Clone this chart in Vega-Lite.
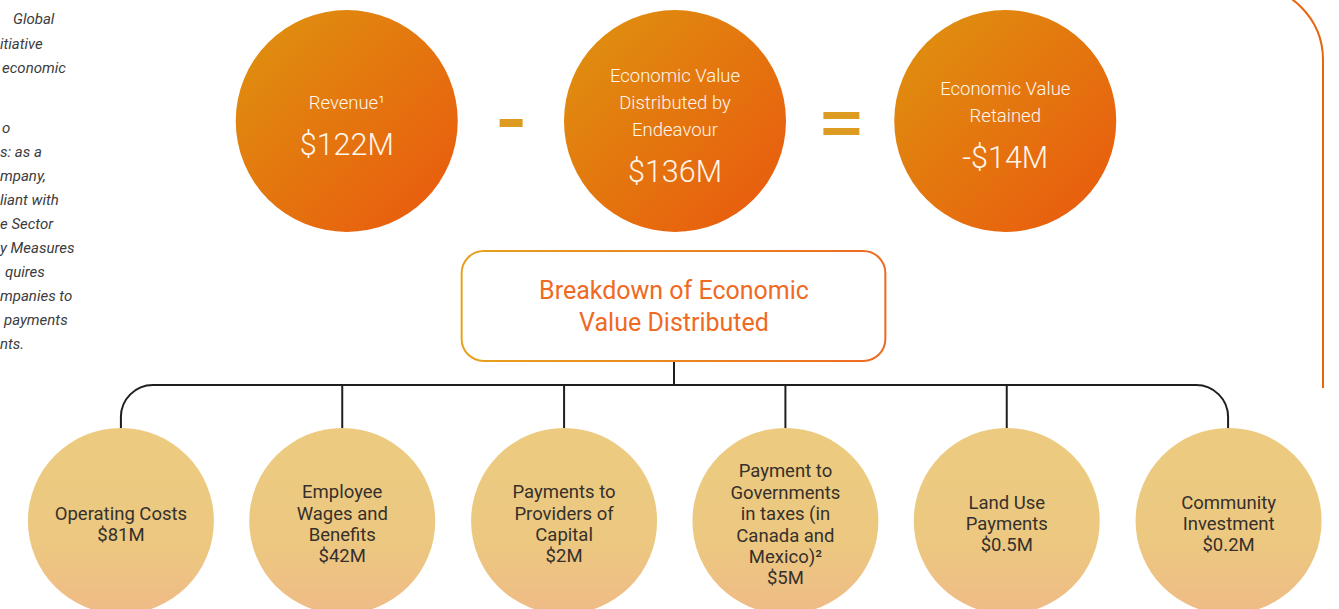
{
  "$schema": "https://vega.github.io/schema/vega-lite/v6.json",
  "width": 1339,
  "height": 609,
  "autosize": {"type": "fit", "contains": "padding"},
  "padding": 0,
  "background": "white",
  "config": {"view": {"stroke": null}, "text": {"font": "Roboto"}},
  "datasets": {
    "frame": [{"x": -100, "x2": 1323, "y": -15, "y2": 720}],
    "frameCut": [{"x": 1317, "x2": 1330, "y": 388, "y2": 720}],
    "tree": [{"x": 120, "x2": 1228, "y": 385, "y2": 720}],
    "stubs": [
      {"x": 341.5, "y": 385, "y2": 428},
      {"x": 563.5, "y": 385, "y2": 428},
      {"x": 785, "y": 385, "y2": 428},
      {"x": 1006.5, "y": 385, "y2": 428},
      {"x": 673.5, "y": 361, "y2": 385}
    ],
    "topCircles": [
      {"item": "Revenue", "x": 346, "y": 121},
      {"item": "Economic Value Distributed", "x": 674.5, "y": 121},
      {"item": "Economic Value Retained", "x": 1005, "y": 121}
    ],
    "bottomCircles": [
      {"item": "Operating Costs", "x": 120, "y": 521},
      {"item": "Employee Wages and Benefits", "x": 341.5, "y": 521},
      {"item": "Payments to Providers of Capital", "x": 563.5, "y": 521},
      {"item": "Payment to Governments", "x": 785, "y": 521},
      {"item": "Land Use Payments", "x": 1006.5, "y": 521},
      {"item": "Community Investment", "x": 1228.5, "y": 521}
    ],
    "box": [{"x": 461, "x2": 885, "y": 251, "y2": 361}],
    "boxText": [
      {"x": 673.5, "y": 291, "t": "Breakdown of Economic"},
      {"x": 673.5, "y": 323, "t": "Value Distributed"}
    ],
    "operators": [
      {"op": "minus", "x": 499, "x2": 522, "y": 119, "y2": 127},
      {"op": "equals top", "x": 823, "x2": 859, "y": 112, "y2": 119},
      {"op": "equals bottom", "x": 823, "x2": 859, "y": 128, "y2": 135}
    ],
    "topLabels": [
      {"x": 346, "y": 103, "t": "Revenue¹"},
      {"x": 674.5, "y": 76, "t": "Economic Value"},
      {"x": 674.5, "y": 103, "t": "Distributed by"},
      {"x": 674.5, "y": 130, "t": "Endeavour"},
      {"x": 1005, "y": 89, "t": "Economic Value"},
      {"x": 1005, "y": 116, "t": "Retained"}
    ],
    "topValues": [
      {"x": 346, "y": 146, "t": "$122M"},
      {"x": 674.5, "y": 173, "t": "$136M"},
      {"x": 1005, "y": 159, "t": "-$14M"}
    ],
    "bottomText": [
      {"x": 120, "y": 514, "t": "Operating Costs"},
      {"x": 120, "y": 535, "t": "$81M"},
      {"x": 341.5, "y": 492, "t": "Employee"},
      {"x": 341.5, "y": 514, "t": "Wages and"},
      {"x": 341.5, "y": 535, "t": "Benefits"},
      {"x": 341.5, "y": 556, "t": "$42M"},
      {"x": 563.5, "y": 492, "t": "Payments to"},
      {"x": 563.5, "y": 514, "t": "Providers of"},
      {"x": 563.5, "y": 535, "t": "Capital"},
      {"x": 563.5, "y": 556, "t": "$2M"},
      {"x": 785, "y": 471, "t": "Payment to"},
      {"x": 785, "y": 493, "t": "Governments"},
      {"x": 785, "y": 514, "t": "in taxes (in"},
      {"x": 785, "y": 536, "t": "Canada and"},
      {"x": 785, "y": 557, "t": "Mexico)²"},
      {"x": 785, "y": 578, "t": "$5M"},
      {"x": 1006.5, "y": 503, "t": "Land Use"},
      {"x": 1006.5, "y": 524, "t": "Payments"},
      {"x": 1006.5, "y": 545, "t": "$0.5M"},
      {"x": 1228.5, "y": 503, "t": "Community"},
      {"x": 1228.5, "y": 524, "t": "Investment"},
      {"x": 1228.5, "y": 545, "t": "$0.2M"}
    ],
    "leftText": [
      {"x": 12, "y": 19, "t": "Global"},
      {"x": -1, "y": 44, "t": "itiative"},
      {"x": 1, "y": 68, "t": "economic"},
      {"x": 1, "y": 128, "t": "o"},
      {"x": -1, "y": 152, "t": "s: as a"},
      {"x": -1, "y": 176, "t": "mpany,"},
      {"x": -1, "y": 200, "t": "liant with"},
      {"x": -1, "y": 224, "t": "e Sector"},
      {"x": -1, "y": 248, "t": "y Measures"},
      {"x": 4, "y": 272, "t": "quires"},
      {"x": -1, "y": 296, "t": "mpanies to"},
      {"x": 3, "y": 320, "t": "payments"},
      {"x": -1, "y": 344, "t": "nts."}
    ]
  },
  "layer": [
    {
      "data": {"name": "frame"},
      "mark": {"type": "rect", "fill": null, "stroke": "#e8650f", "strokeWidth": 2, "cornerRadius": 75, "clip": true},
      "encoding": {
        "x": {"field": "x", "type": "quantitative", "scale": {"domain": [0, 1339], "nice": false, "zero": false}, "axis": null},
        "x2": {"field": "x2"},
        "y": {"field": "y", "type": "quantitative", "scale": {"domain": [0, 609], "nice": false, "zero": false, "reverse": true}, "axis": null},
        "y2": {"field": "y2"}
      }
    },
    {
      "data": {"name": "frameCut"},
      "mark": {"type": "rect", "fill": "white", "clip": true},
      "encoding": {
        "x": {"field": "x", "type": "quantitative", "scale": {"domain": [0, 1339], "nice": false, "zero": false}, "axis": null},
        "x2": {"field": "x2"},
        "y": {"field": "y", "type": "quantitative", "scale": {"domain": [0, 609], "nice": false, "zero": false, "reverse": true}, "axis": null},
        "y2": {"field": "y2"}
      }
    },
    {
      "data": {"name": "tree"},
      "mark": {"type": "rect", "fill": null, "stroke": "#1e1e1e", "strokeWidth": 2, "cornerRadius": 32, "clip": true},
      "encoding": {
        "x": {"field": "x", "type": "quantitative", "scale": {"domain": [0, 1339], "nice": false, "zero": false}, "axis": null},
        "x2": {"field": "x2"},
        "y": {"field": "y", "type": "quantitative", "scale": {"domain": [0, 609], "nice": false, "zero": false, "reverse": true}, "axis": null},
        "y2": {"field": "y2"}
      }
    },
    {
      "data": {"name": "stubs"},
      "mark": {"type": "rule", "color": "#1e1e1e", "strokeWidth": 2},
      "encoding": {
        "x": {"field": "x", "type": "quantitative", "scale": {"domain": [0, 1339], "nice": false, "zero": false}, "axis": null},
        "y": {"field": "y", "type": "quantitative", "scale": {"domain": [0, 609], "nice": false, "zero": false, "reverse": true}, "axis": null},
        "y2": {"field": "y2"}
      }
    },
    {
      "data": {"name": "topCircles"},
      "mark": {"type": "point", "shape": "circle", "filled": true, "opacity": 1, "size": 49284, "strokeWidth": 0,
        "fill": {"gradient": "linear", "x1": 0.1, "y1": 0.1, "x2": 0.9, "y2": 0.9, "stops": [{"offset": 0, "color": "#df8e0f"}, {"offset": 1, "color": "#e95d0e"}]}},
      "encoding": {
        "x": {"field": "x", "type": "quantitative", "scale": {"domain": [0, 1339], "nice": false, "zero": false}, "axis": null},
        "y": {"field": "y", "type": "quantitative", "scale": {"domain": [0, 609], "nice": false, "zero": false, "reverse": true}, "axis": null}
      }
    },
    {
      "data": {"name": "bottomCircles"},
      "mark": {"type": "point", "shape": "circle", "filled": true, "opacity": 1, "size": 34596, "strokeWidth": 0, "clip": true,
        "fill": {"gradient": "linear", "x1": 0, "y1": 0, "x2": 0, "y2": 1, "stops": [{"offset": 0, "color": "#eccb80"}, {"offset": 0.6, "color": "#ecc880"}, {"offset": 1, "color": "#efbb86"}]}},
      "encoding": {
        "x": {"field": "x", "type": "quantitative", "scale": {"domain": [0, 1339], "nice": false, "zero": false}, "axis": null},
        "y": {"field": "y", "type": "quantitative", "scale": {"domain": [0, 609], "nice": false, "zero": false, "reverse": true}, "axis": null}
      }
    },
    {
      "data": {"name": "box"},
      "mark": {"type": "rect", "fill": "white", "strokeWidth": 2, "cornerRadius": 22,
        "stroke": {"gradient": "linear", "x1": 0, "y1": 0, "x2": 1, "y2": 0, "stops": [{"offset": 0, "color": "#e6a21e"}, {"offset": 1, "color": "#ee6a22"}]}},
      "encoding": {
        "x": {"field": "x", "type": "quantitative", "scale": {"domain": [0, 1339], "nice": false, "zero": false}, "axis": null},
        "x2": {"field": "x2"},
        "y": {"field": "y", "type": "quantitative", "scale": {"domain": [0, 609], "nice": false, "zero": false, "reverse": true}, "axis": null},
        "y2": {"field": "y2"}
      }
    },
    {
      "data": {"name": "boxText"},
      "mark": {"type": "text", "fontSize": 25, "color": "#ef6a23", "align": "center", "baseline": "middle", "fontWeight": 400},
      "encoding": {
        "x": {"field": "x", "type": "quantitative", "scale": {"domain": [0, 1339], "nice": false, "zero": false}, "axis": null},
        "y": {"field": "y", "type": "quantitative", "scale": {"domain": [0, 609], "nice": false, "zero": false, "reverse": true}, "axis": null},
        "text": {"field": "t"}
      }
    },
    {
      "data": {"name": "operators"},
      "mark": {"type": "rect", "color": "#dd9b22"},
      "encoding": {
        "x": {"field": "x", "type": "quantitative", "scale": {"domain": [0, 1339], "nice": false, "zero": false}, "axis": null},
        "x2": {"field": "x2"},
        "y": {"field": "y", "type": "quantitative", "scale": {"domain": [0, 609], "nice": false, "zero": false, "reverse": true}, "axis": null},
        "y2": {"field": "y2"}
      }
    },
    {
      "data": {"name": "topLabels"},
      "mark": {"type": "text", "fontSize": 18.5, "color": "#fff6ec", "align": "center", "baseline": "middle", "fontWeight": 300},
      "encoding": {
        "x": {"field": "x", "type": "quantitative", "scale": {"domain": [0, 1339], "nice": false, "zero": false}, "axis": null},
        "y": {"field": "y", "type": "quantitative", "scale": {"domain": [0, 609], "nice": false, "zero": false, "reverse": true}, "axis": null},
        "text": {"field": "t"}
      }
    },
    {
      "data": {"name": "topValues"},
      "mark": {"type": "text", "fontSize": 30.5, "color": "#fff6ec", "align": "center", "baseline": "middle", "fontWeight": 300},
      "encoding": {
        "x": {"field": "x", "type": "quantitative", "scale": {"domain": [0, 1339], "nice": false, "zero": false}, "axis": null},
        "y": {"field": "y", "type": "quantitative", "scale": {"domain": [0, 609], "nice": false, "zero": false, "reverse": true}, "axis": null},
        "text": {"field": "t"}
      }
    },
    {
      "data": {"name": "bottomText"},
      "mark": {"type": "text", "fontSize": 18.5, "color": "#35302c", "align": "center", "baseline": "middle"},
      "encoding": {
        "x": {"field": "x", "type": "quantitative", "scale": {"domain": [0, 1339], "nice": false, "zero": false}, "axis": null},
        "y": {"field": "y", "type": "quantitative", "scale": {"domain": [0, 609], "nice": false, "zero": false, "reverse": true}, "axis": null},
        "text": {"field": "t"}
      }
    },
    {
      "data": {"name": "leftText"},
      "mark": {"type": "text", "fontSize": 15, "fontStyle": "italic", "color": "#3c3c3c", "align": "left", "baseline": "middle"},
      "encoding": {
        "x": {"field": "x", "type": "quantitative", "scale": {"domain": [0, 1339], "nice": false, "zero": false}, "axis": null},
        "y": {"field": "y", "type": "quantitative", "scale": {"domain": [0, 609], "nice": false, "zero": false, "reverse": true}, "axis": null},
        "text": {"field": "t"}
      }
    }
  ]
}
